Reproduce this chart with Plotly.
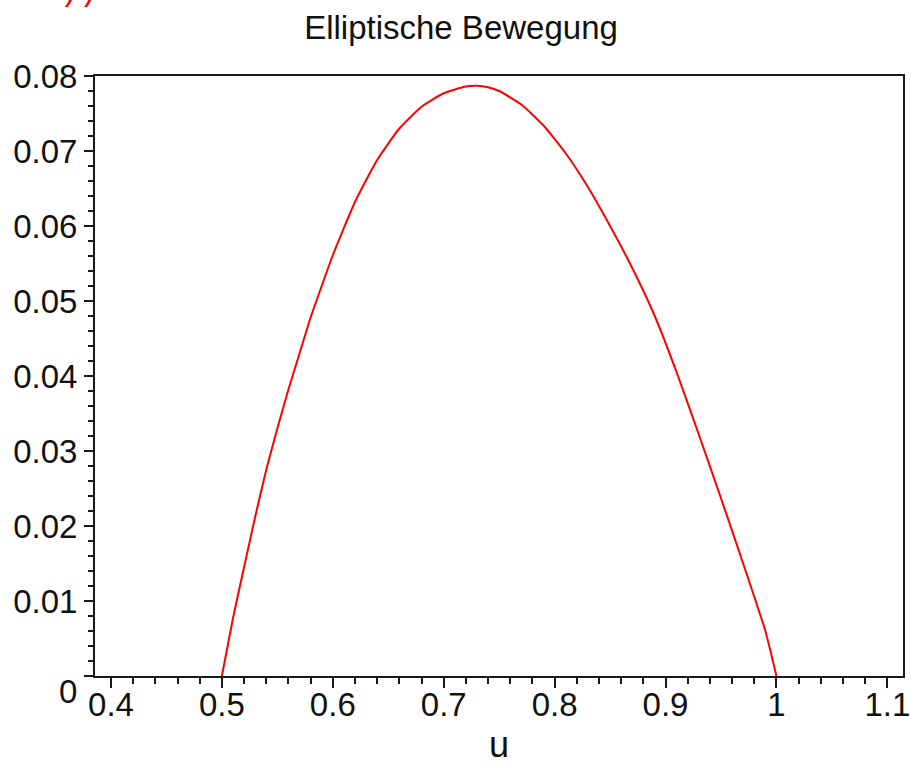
import plotly.graph_objects as go

# curve
u_vals = [0.50, 0.51, 0.52, 0.53, 0.54, 0.55, 0.56, 0.57, 0.58, 0.59, 0.60,
          0.62, 0.64, 0.66, 0.68, 0.70, 0.72, 0.73, 0.74, 0.75, 0.77, 0.79,
          0.81, 0.83, 0.85, 0.87, 0.89, 0.91, 0.93, 0.95, 0.97, 0.99, 1.00]
v_vals = [0.0, 0.0077, 0.0145, 0.0212, 0.0275, 0.0330, 0.0382, 0.0430, 0.0478,
          0.0520, 0.0561, 0.0632, 0.0688, 0.0730, 0.0759, 0.0777, 0.0786, 0.0787,
          0.0785, 0.0780, 0.0762, 0.0734, 0.0697, 0.0652, 0.0600, 0.0544, 0.0481,
          0.0405, 0.0322, 0.0237, 0.0150, 0.0060, 0.0]

x_ticks = [0.4, 0.5, 0.6, 0.7, 0.8, 0.9, 1.0, 1.1]
x_ticktext = ["0.4", "0.5", "0.6", "0.7", "0.8", "0.9", "1", "1.1"]
y_ticks = [0.0, 0.01, 0.02, 0.03, 0.04, 0.05, 0.06, 0.07, 0.08]
y_ticktext = ["", "0.01", "0.02", "0.03", "0.04", "0.05", "0.06", "0.07", "0.08"]

title_text = "Elliptische Bewegung"
x_label = "u"

FONT = "Liberation Sans, Arial, sans-serif"
AX = "#1a1a1a"

fig = go.Figure()
fig.add_trace(go.Scatter(x=u_vals, y=v_vals, mode="lines",
                         line=dict(color="#ff0000", width=2, shape="spline", smoothing=0.5),
                         hoverinfo="skip", showlegend=False))

fig.update_layout(
    width=911, height=768,
    margin=dict(l=95, r=8, t=76, b=92, autoexpand=False),
    paper_bgcolor="white", plot_bgcolor="white",
    font=dict(family=FONT, color="#111111", size=34),
    title=dict(text=title_text, x=461 / 911, xref="container", xanchor="center",
               y=1 - 27 / 768, yref="container", yanchor="middle",
               font=dict(family=FONT, size=33, color="#111111")),
)

fig.update_xaxes(
    range=[0.3856, 1.1141], showgrid=False, zeroline=False, automargin=False,
    showline=True, linecolor=AX, linewidth=2, mirror=True,
    tickmode="array", tickvals=x_ticks, ticktext=x_ticktext,
    ticks="outside", ticklen=10, tickwidth=2, tickcolor=AX,
    ticklabelstandoff=-12,
    tickfont=dict(family=FONT, size=33, color="#111111"),
    minor=dict(dtick=0.02, tick0=0.4, ticks="outside", ticklen=6, tickwidth=2, tickcolor=AX),
)
fig.update_yaxes(
    range=[0, 0.08], showgrid=False, zeroline=False, automargin=False,
    showline=True, linecolor=AX, linewidth=2, mirror=True,
    tickmode="array", tickvals=y_ticks, ticktext=y_ticktext,
    ticks="outside", ticklen=9, tickwidth=2, tickcolor=AX,
    tickfont=dict(family=FONT, size=33, color="#111111"),
    minor=dict(dtick=0.002, tick0=0, ticks="outside", ticklen=5, tickwidth=2, tickcolor=AX),
)

# x axis label
fig.add_annotation(text=x_label, xref="paper", yref="paper",
                   x=0.5, y=-(744 - 676) / 600,
                   xanchor="center", yanchor="middle", showarrow=False,
                   font=dict(family=FONT, size=36, color="#111111"))

# lone "0" label of the y axis, set lower as in the original
fig.add_annotation(text="0", xref="paper", yref="paper",
                   x=(79 - 95) / 808, y=-(691 - 676) / 600,
                   xanchor="right", yanchor="middle", showarrow=False,
                   font=dict(family=FONT, size=33, color="#111111"))

# red Maple input line cut off at the top of the picture
fig.add_annotation(text="111))", xref="paper", yref="paper",
                   x=-95 / 808, y=1 + (76 - 12) / 600,
                   xanchor="left", yanchor="bottom", showarrow=False,
                   font=dict(family="Liberation Mono, Courier New, monospace", size=32,
                             color="#ff0000"))

fig.write_html("out.html")
